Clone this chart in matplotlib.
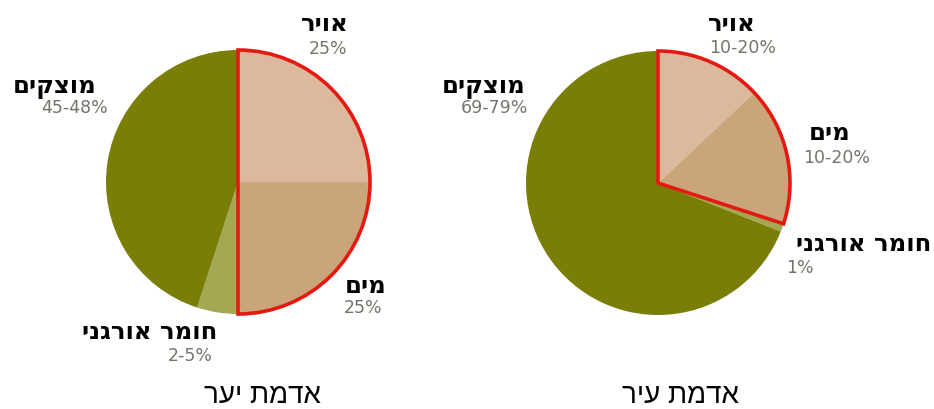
import matplotlib
matplotlib.use('Agg')
import matplotlib.pyplot as plt

# data
parts = ['אויר', 'מים', 'חומר אורגני', 'מוצקים']
forest_vals = [25, 25, 5, 45]
forest_text = ['25%', '25%', '2-5%', '45-48%']
city_vals = [13, 17, 1, 69]
city_text = ['10-20%', '10-20%', '1%', '69-79%']
titles = ['אדמת יער', 'אדמת עיר']

colors = ['#dcb99d', '#cba57a', '#a4a853', '#7a7e07']
red = '#e41a12'
pct_color = '#74746a'
heb = ['Liberation Sans', 'DejaVu Sans']
heb_bold = ['DejaVu Sans']

W, H = 934, 409
fig = plt.figure(figsize=(W / 100, H / 100), dpi=100)
ax = fig.add_axes([0, 0, 1, 1])


def rtl(s):
    # matplotlib lays glyphs out left to right, so flip hebrew by hand
    return s[::-1]


def draw_pie(vals, cx, cy, r):
    ax.pie(vals, colors=colors, startangle=90, counterclock=False,
           center=(cx, H - cy), radius=r, wedgeprops=dict(linewidth=0))
    # red outline around air + water
    w, _ = ax.pie([vals[0] + vals[1], sum(vals[2:])], colors=['none', 'none'],
                  startangle=90, counterclock=False, center=(cx, H - cy), radius=r,
                  wedgeprops=dict(linewidth=2.6, edgecolor=red))
    w[1].set_visible(False)


def label(x, y, name, pct, x2, y2):
    ax.text(x, H - y, rtl(name), ha='center', va='center', fontsize=17.5,
            fontweight='bold', family=heb_bold, color='black')
    ax.text(x2, H - y2, pct, ha='center', va='center', fontsize=12.5,
            family='DejaVu Sans', color=pct_color)


draw_pie(forest_vals, 238, 182, 132)
draw_pie(city_vals, 658, 183, 132)

# forest labels
label(325, 24, parts[0], forest_text[0], 328, 49)
label(366, 286, parts[1], forest_text[1], 363, 308)
label(150, 332, parts[2], forest_text[2], 190, 356)
label(55, 87, parts[3], forest_text[3], 75, 108)

# city labels
label(732, 24, parts[0], city_text[0], 743, 48)
label(830, 133, parts[1], city_text[1], 837, 158)
label(864, 244, parts[2], city_text[2], 800, 268)
label(484, 87, parts[3], city_text[3], 494, 108)

ax.text(262, H - 396, rtl(titles[0]), ha='center', va='center', fontsize=20,
        family=heb, color='black')
ax.text(680, H - 396, rtl(titles[1]), ha='center', va='center', fontsize=20,
        family=heb, color='black')

ax.set_xlim(0, W)
ax.set_ylim(0, H)
ax.set_aspect('equal')
ax.axis('off')

fig.savefig('out.png', dpi=100)
